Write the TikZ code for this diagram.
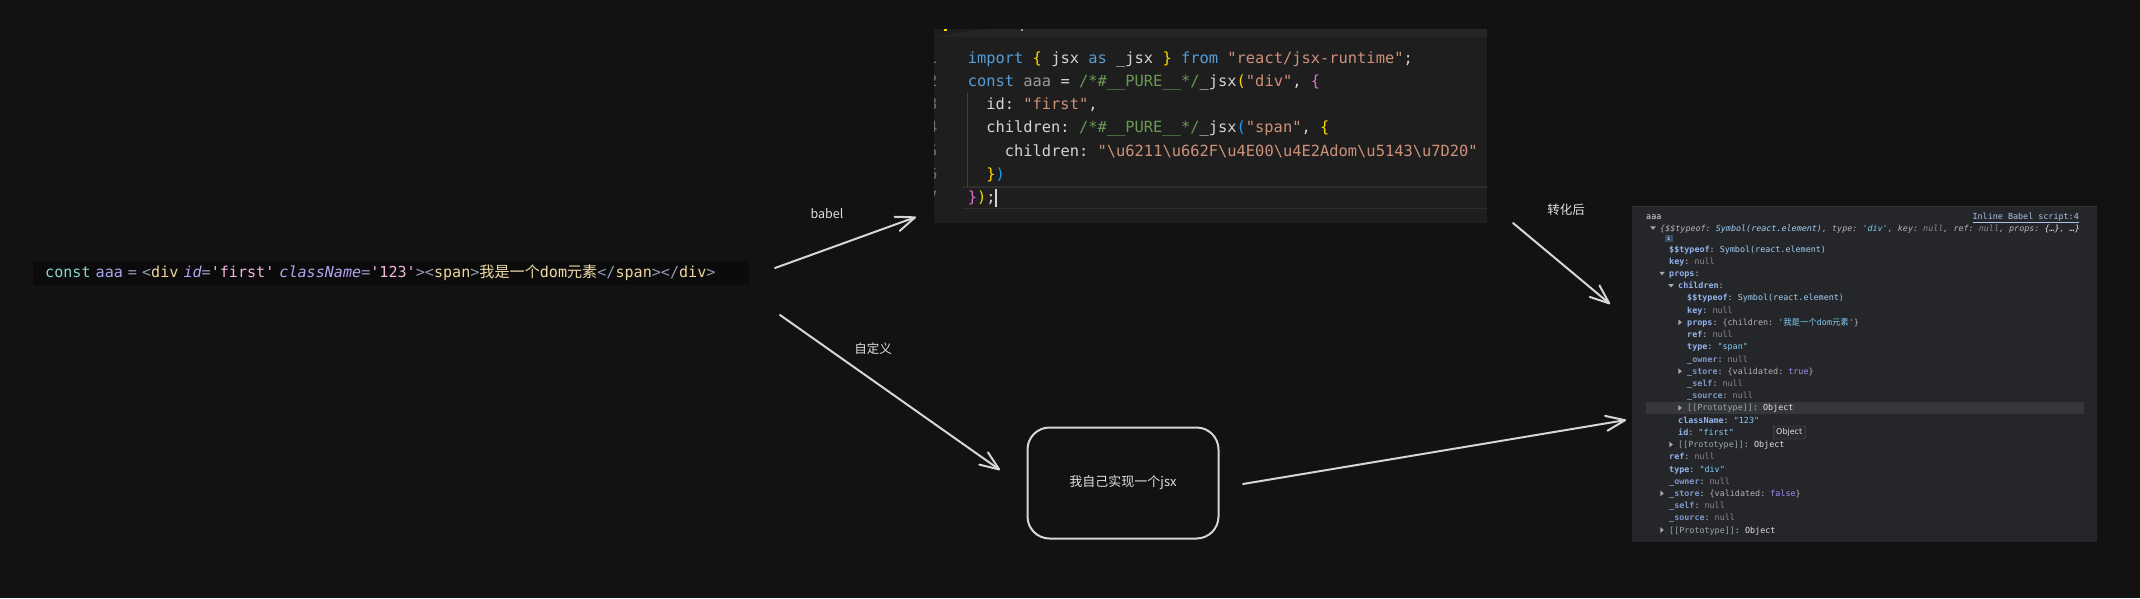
\documentclass[tikz,border=0pt]{standalone}
\usepackage{fontspec}
\setmainfont{DejaVu Sans}
\setmonofont{DejaVu Sans Mono}
\newfontfamily\cjk{Noto Sans CJK SC}
\usetikzlibrary{arrows.meta}
\definecolor{bg}{HTML}{121212}
\definecolor{stripbg}{HTML}{0B0B0B}
\definecolor{vsbg}{HTML}{1E1E1E}
\definecolor{vstab}{HTML}{252526}
\definecolor{vsline}{HTML}{2E2E2E}
\definecolor{vsguide}{HTML}{404040}
\definecolor{vsnum}{HTML}{6E7681}
\definecolor{kw}{HTML}{569CD6}
\definecolor{tx}{HTML}{D4D4D4}
\definecolor{dimv}{HTML}{9A9A9A}
\definecolor{str}{HTML}{CE9178}
\definecolor{cmt}{HTML}{6A9955}
\definecolor{bA}{HTML}{FFD700}
\definecolor{bB}{HTML}{DA70D6}
\definecolor{bC}{HTML}{179FFF}
\definecolor{lteal}{HTML}{8BD5CA}
\definecolor{llav}{HTML}{A9A6EE}
\definecolor{lgray}{HTML}{939AB7}
\definecolor{lyel}{HTML}{EED49F}
\definecolor{lattr}{HTML}{B7A2F0}
\definecolor{lpink}{HTML}{F0B6DE}
\definecolor{ltext}{HTML}{F0DCA8}
\definecolor{devbg}{HTML}{24262A}
\definecolor{devhl}{HTML}{35373B}
\definecolor{devtop}{HTML}{3A342B}
\definecolor{dkey}{HTML}{94B4EC}
\definecolor{dkeydim}{HTML}{7F97C7}
\definecolor{dproto}{HTML}{A0A4AB}
\definecolor{dnull}{HTML}{8A8A8A}
\definecolor{dcol}{HTML}{C8C8C8}
\definecolor{dsym}{HTML}{A3CFF2}
\definecolor{dstr}{HTML}{82CFF5}
\definecolor{dbool}{HTML}{A38CF5}
\definecolor{dobj}{HTML}{E3E3E3}
\definecolor{dpun}{HTML}{B4B4B4}
\definecolor{dlink}{HTML}{A9C4E8}
\definecolor{badgebg}{HTML}{3D4B5E}
\definecolor{tipdraw}{HTML}{5F6368}
\definecolor{tipfill}{HTML}{292A2D}
\definecolor{tri}{HTML}{A8A8A8}
\definecolor{sk}{HTML}{D6D6D6}
\definecolor{labc}{HTML}{E0E0E0}
\newcommand\cx[2]{\textcolor{#1}{#2}}
\newcommand\dkv[2]{\textcolor{dkey}{\bfseries #1}\textcolor{dcol}{:}\ #2}
\newcommand\dkd[2]{\textcolor{dkeydim}{\bfseries #1}\textcolor{dcol}{:}\ #2}
\newcommand\dnul{\textcolor{dnull}{null}}
\newcommand\dproto{\textcolor{dproto}{[[Prototype]]}\textcolor{dcol}{:}\ \textcolor{dobj}{Object}}
\newcommand\tdown[2]{\fill[tri] (#1,#2) ++(-2.8,-1.6) -- ++(5.6,0) -- ++(-2.8,3.4) -- cycle;}
\newcommand\tright[2]{\fill[tri] (#1,#2) ++(-1.6,-2.8) -- ++(0,5.6) -- ++(3.4,-2.8) -- cycle;}
\begin{document}
\begin{tikzpicture}[x=1pt,y=-1pt,
  codeline/.style={anchor=base west, inner sep=0pt, font=\ttfamily\fontsize{15.4}{18}\selectfont},
  numline/.style={anchor=base east, inner sep=0pt, text=vsnum, font=\ttfamily\fontsize{15.4}{18}\selectfont},
  devl/.style={anchor=base west, inner sep=0pt, font=\ttfamily\fontsize{8.4}{10}\selectfont},
  sketch/.style={draw=sk, line width=2pt, line cap=round, line join=round},
  arr/.style={sketch, -{Straight Barb[length=19pt, width=15pt, round]}},
  lab/.style={inner sep=0pt, text=labc, font=\cjk\fontsize{12.5}{14}\selectfont},
  panel/.style={draw=none, inner sep=0pt, anchor=north west}]
\fill[bg] (0,0) rectangle (2140,598);
\useasboundingbox (0,0) rectangle (2140,598);

% ---------- source strip ----------
\node[fill=stripbg, anchor=west, minimum height=24pt, inner xsep=12pt, inner ysep=0pt,
      text width=692pt, align=left, font=\ttfamily\fontsize{15.1}{17}\selectfont] (src) at (33,273)
 {\cx{lteal}{const} \cx{llav}{aaa} \cx{lgray}{=} \cx{lgray}{<}\cx{lyel}{div} \cx{lattr}{\itshape id}\cx{lgray}{=}\cx{lpink}{'first'} \cx{lattr}{\itshape className}\cx{lgray}{=}\cx{lpink}{'123'}\cx{lgray}{>}\cx{lgray}{<}\cx{lyel}{span}\cx{lgray}{>}\cx{ltext}{{\cjk 我是一个}dom{\cjk 元素}}\cx{lgray}{</}\cx{lyel}{span}\cx{lgray}{></}\cx{lyel}{div}\cx{lgray}{>}};

% ---------- generated code panel ----------
\node[panel, fill=vsbg, minimum width=553pt, minimum height=194pt] (gen) at (934,29) {};
\fill[vstab] (934,29) rectangle (1487,37);
\fill[vsbg] (934,29) -- (985,29) -- (985,33) arc[start angle=0, end angle=-90, radius=4] -- (934,37) -- cycle;
\fill[bA] (944,29) rectangle (947,31);
\fill[dimv] (1021,29) rectangle (1023,31);
\draw[vsline, line width=1.5pt] (963,187) -- (1487,187) (963,208.5) -- (1487,208.5);
\draw[vsguide, line width=1pt] (967.6,93) -- (967.6,186);
\begin{scope}
\clip (934,29) rectangle (1487,223);
\foreach \n [count=\i from 0] in {1,...,7} \node[numline] at (937.5,63.3+23.2*\i) {\n};
\end{scope}
\node[codeline] (l1) at (967.6,63.3) {\cx{kw}{import} \cx{bA}{\{} \cx{tx}{jsx} \cx{kw}{as} \cx{tx}{\_jsx} \cx{bA}{\}} \cx{kw}{from} \cx{str}{"react/jsx-runtime"}\cx{tx}{;}};
\node[codeline] (l2) at (967.6,86.5) {\cx{kw}{const} \cx{dimv}{aaa} \cx{tx}{=} \cx{cmt}{/*\#\_\_PURE\_\_*/}\cx{tx}{\_jsx}\cx{bA}{(}\cx{str}{"div"}\cx{tx}{,} \cx{bB}{\{}};
\node[codeline] (l3) at (986.1,109.7) {\cx{tx}{id:} \cx{str}{"first"}\cx{tx}{,}};
\node[codeline] (l4) at (986.1,132.9) {\cx{tx}{children:} \cx{cmt}{/*\#\_\_PURE\_\_*/}\cx{tx}{\_jsx}\cx{bC}{(}\cx{str}{"span"}\cx{tx}{,} \cx{bA}{\{}};
\node[codeline] (l5) at (1004.7,156.1) {\cx{tx}{children:} \cx{str}{"\textbackslash u6211\textbackslash u662F\textbackslash u4E00\textbackslash u4E2Adom\textbackslash u5143\textbackslash u7D20"}};
\node[codeline] (l6) at (986.1,179.3) {\cx{bA}{\}}\cx{bC}{)}};
\node[codeline] (l7) at (967.6,202.5) {\cx{bB}{\}}\cx{bA}{)}\cx{tx}{;}};
\draw[tx, line width=1.5pt] (996,188.5) -- (996,207);

% ---------- devtools panel ----------
\node[panel, fill=devbg, minimum width=465pt, minimum height=336pt] (dev) at (1632,206) {};
\draw[devtop, line width=1pt] (1632,206.5) -- (2097,206.5);
\fill[devhl] (1646,402) rectangle (2084,414);
\node[devl, text=dobj] (d0) at (1646,219) {aaa};
\node[devl, anchor=base east, text=dlink] (dlnk) at (2079,219) {\underline{Inline Babel script:4}};
\tdown{1653}{228}
\node[devl, text=dpun] (d1) at (1660,231) {\itshape \{\$\$typeof: \textcolor{dsym}{Symbol(react.element)}, type: \textcolor{dstr}{'div'}, key: \textcolor{dnull}{null}, ref: \textcolor{dnull}{null}, props: \textcolor{dobj}{\{…\}}, \textcolor{dobj}{…\}}};
\node[fill=badgebg, inner sep=0pt, minimum width=7.5pt, minimum height=6.5pt, text=dlink, font=\ttfamily\bfseries\fontsize{5.5}{6}\selectfont] (badge) at (1668.8,238.7) {i};
\node[devl] (d3) at (1669,252.0) {\dkv{\$\$typeof}{\textcolor{dsym}{Symbol(react.element)}}};
\node[devl] (d4) at (1669,264.2) {\dkv{key}{\dnul}};
\tdown{1662}{273.4}
\node[devl] (d5) at (1669,276.4) {\textcolor{dkey}{\bfseries props}\textcolor{dcol}{:}};
\tdown{1671}{285.7}
\node[devl] (d6) at (1678,288.7) {\textcolor{dkey}{\bfseries children}\textcolor{dcol}{:}};
\node[devl] (d7) at (1687,300.9) {\dkv{\$\$typeof}{\textcolor{dsym}{Symbol(react.element)}}};
\node[devl] (d8) at (1687,313.1) {\dkv{key}{\dnul}};
\tright{1680}{322.3}
\node[devl] (d9) at (1687,325.3) {\dkv{props}{\textcolor{dpun}{\{children: }\textcolor{dstr}{'{\cjk 我是一个}dom{\cjk 元素}'}\textcolor{dpun}{\}}}};
\node[devl] (d10) at (1687,337.5) {\dkv{ref}{\dnul}};
\node[devl] (d11) at (1687,349.8) {\dkv{type}{\textcolor{dstr}{"span"}}};
\node[devl] (d12) at (1687,362.0) {\dkd{\_owner}{\dnul}};
\tright{1680}{371.2}
\node[devl] (d13) at (1687,374.2) {\dkd{\_store}{\textcolor{dpun}{\{validated: }\textcolor{dbool}{true}\textcolor{dpun}{\}}}};
\node[devl] (d14) at (1687,386.4) {\dkd{\_self}{\dnul}};
\node[devl] (d15) at (1687,398.6) {\dkd{\_source}{\dnul}};
\tright{1680}{407.9}
\node[devl] (d16) at (1687,410.9) {\dproto};
\node[devl] (d17) at (1678,423.1) {\dkv{className}{\textcolor{dstr}{"123"}}};
\node[devl] (d18) at (1678,435.3) {\dkv{id}{\textcolor{dstr}{"first"}}};
\node[draw=tipdraw, fill=tipfill, rounded corners=1pt, anchor=west, inner xsep=3pt, inner ysep=0pt, minimum height=13pt, text=dobj, font=\fontsize{8}{9}\selectfont] (tip) at (1773,432.5) {Object};
\tright{1671}{444.5}
\node[devl] (d19) at (1678,447.5) {\dproto};
\node[devl] (d20) at (1669,459.7) {\dkv{ref}{\dnul}};
\node[devl] (d21) at (1669,472.0) {\dkv{type}{\textcolor{dstr}{"div"}}};
\node[devl] (d22) at (1669,484.2) {\dkd{\_owner}{\dnul}};
\tright{1662}{493.4}
\node[devl] (d23) at (1669,496.4) {\dkd{\_store}{\textcolor{dpun}{\{validated: }\textcolor{dbool}{false}\textcolor{dpun}{\}}}};
\node[devl] (d24) at (1669,508.6) {\dkd{\_self}{\dnul}};
\node[devl] (d25) at (1669,520.8) {\dkd{\_source}{\dnul}};
\tright{1662}{530.0}
\node[devl] (d26) at (1669,533.0) {\dproto};

% ---------- custom box ----------
\node[sketch, rounded corners=22pt, minimum width=191pt, minimum height=111pt, text=labc,
      font=\cjk\fontsize{13}{15}\selectfont] (mine) at (1123,483) {我自己实现一个jsx};

% ---------- labels ----------
\node[lab] (lb1) at (827,214) {babel};
\node[lab] (lb2) at (873,349) {自定义};
\node[lab] (lb3) at (1566,210) {转化后};

% ---------- arrows ----------
\coordinate (a1s) at (775,268);  \coordinate (a1e) at (916,217);
\coordinate (a2s) at (780,315);  \coordinate (a2e) at (1000,470);
\coordinate (a3s) at (1513,223); \coordinate (a3e) at (1610,304);
\coordinate (a4s) at (1243,484); \coordinate (a4e) at (1626,420);
\draw[arr] (a1s) -- (a1e);
\draw[arr] (a2s) -- (a2e);
\draw[arr] (a3s) -- (a3e);
\draw[arr] (a4s) -- (a4e);
\end{tikzpicture}
\end{document}
